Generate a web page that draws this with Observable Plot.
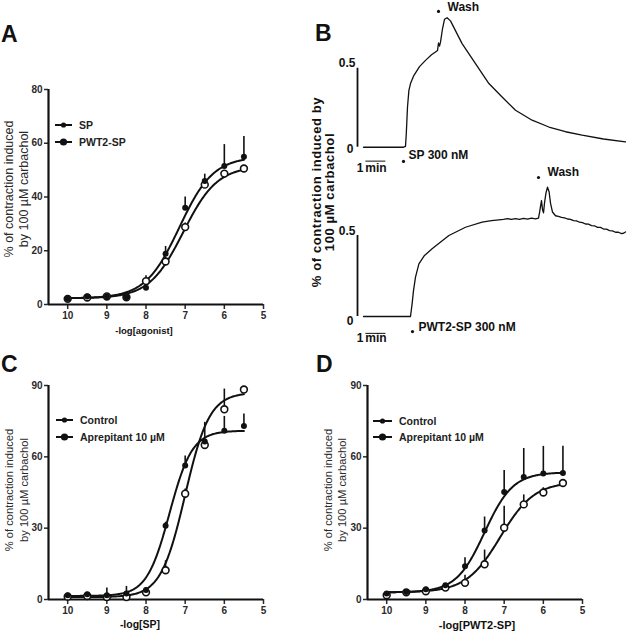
<!DOCTYPE html>
<html><head><meta charset="utf-8">
<script src="https://cdn.jsdelivr.net/npm/d3@7"></script>
<script src="https://cdn.jsdelivr.net/npm/@observablehq/plot@0.6"></script>
<style>
body{margin:0;background:#fff;}
#fig{position:relative;width:629px;height:634px;overflow:hidden;background:#fff;font-family:"Liberation Sans",Arial,sans-serif;color:#111}
#fig svg{position:absolute;overflow:visible}
.t{position:absolute;white-space:nowrap}
</style></head>
<body><div id="fig"></div>
<script>
// ---------- DATA ----------
const doses = [10, 9.5, 9, 8.5, 8, 7.5, 7, 6.5, 6, 5.5];
const xTicks = [10, 9, 8, 7, 6, 5];

// Panel A
const aSeriesNames = ["SP", "PWT2-SP"];
const aSP = [2.1, 3, 3, 2.7, 6.2, 18.9, 36, 46, 51.5, 55];
const aSPsem = [0.4, 0.5, 0.4, 0.4, 1, 2.7, 4, 2.5, 8, 7.5];
const aPWT = [2.1, 2.6, 3, 2.7, 8.7, 16, 28.8, 44.6, 48.7, 50.6];
const aPWTsem = [0.3, 0.4, 0.4, 0.4, 2, 1.5, 1.5, 1, 1, 1];
const aFitBottom = [2.3, 2.3];
const aFitTop = [55, 51.5];
const aFitP = [7.15, 7.05];
const aFitHill = [1, 1];
const aYTicks = [0, 20, 40, 60, 80];

// Panel C
const cSeriesNames = ["Control", "Aprepitant 10 µM"];
const cCtrl = [1.8, 2.2, 1.8, 2.5, 4, 31, 56.4, 66.5, 71, 73];
const cCtrlSem = [0.6, 0.5, 3, 3, 1, 1.5, 4, 8, 6, 5];
const cApr = [1.2, 1.5, 1, 1, 3, 12.3, 44.5, 65, 80, 88.3];
const cAprSem = [0.3, 0.3, 0.3, 0.3, 0.8, 4, 2, 2, 8.5, 1];
const cFitBottom = [1.5, 1];
const cFitTop = [71, 87];
const cFitP = [7.4, 7.0];
const cFitHill = [1.5, 1.4];

// Panel D
const dCtrl = [2.5, 3.2, 4.3, 6, 14, 29, 45.2, 51.5, 53, 53.2];
const dCtrlSem = [0.5, 0.5, 0.8, 0.8, 3.6, 5.7, 9, 12, 11.4, 11.2];
const dApr = [1.8, 3, 3.5, 5, 7, 14.8, 30.2, 40, 45, 49];
const dAprSem = [0.5, 0.5, 0.5, 0.5, 3.2, 6, 9, 4, 2, 1.5];
const dFitBottom = [3, 3];
const dFitTop = [53.5, 49.5];
const dFitP = [7.5, 7.1];
const dFitHill = [1.2, 1.0];
const cdYTicks = [0, 30, 60, 90];

// Panel B traces (time in min, response fraction)
const bTopT = [0, 1.0, 2.0, 2.1, 2.14, 2.2, 2.27, 2.35, 2.5, 2.8, 3.1, 3.4, 3.6, 3.7, 3.75, 3.8, 3.85, 3.95, 4.05, 4.18, 4.35, 4.93, 5.6, 6.27, 6.93, 7.6, 8.43, 9.27, 10.1, 10.93, 12.0, 13.1];
const bTopV = [0, 0, 0, 0.005, 0.087, 0.255, 0.36, 0.403, 0.45, 0.51, 0.55, 0.585, 0.603, 0.612, 0.66, 0.64, 0.665, 0.75, 0.81, 0.82, 0.80, 0.656, 0.53, 0.403, 0.318, 0.234, 0.171, 0.128, 0.098, 0.076, 0.052, 0.034];
const bBotT = [0, 1.0, 2.0, 2.35, 2.43, 2.5, 2.6, 2.77, 3.05, 3.43, 4.27, 5.1, 5.93, 6.4, 6.77, 7.0, 7.2, 7.4, 7.6, 7.8, 8.0, 8.2, 8.4, 8.6, 8.75, 8.8, 8.85, 8.9, 8.95, 9.0, 9.05, 9.12, 9.2, 9.28, 9.35, 9.45, 9.6, 9.75, 9.9, 10.05, 10.2, 10.35, 10.5, 10.65, 10.8, 10.95, 11.1, 11.25, 11.4, 11.55, 11.7, 11.85, 12.0, 12.15, 12.3, 12.45, 12.6, 12.75, 12.9, 13.0, 13.1];
const bBotV = [0, 0, 0, 0, 0.078, 0.16, 0.243, 0.325, 0.377, 0.418, 0.5, 0.551, 0.582, 0.592, 0.597, 0.6, 0.604, 0.599, 0.604, 0.6, 0.606, 0.601, 0.607, 0.603, 0.607, 0.64, 0.68, 0.716, 0.66, 0.64, 0.70, 0.76, 0.798, 0.77, 0.70, 0.645, 0.622, 0.618, 0.612, 0.609, 0.602, 0.6, 0.592, 0.59, 0.582, 0.58, 0.571, 0.57, 0.561, 0.56, 0.55, 0.55, 0.54, 0.539, 0.53, 0.529, 0.52, 0.52, 0.512, 0.514, 0.522];

// ---------- HELPERS ----------
const fig = document.getElementById("fig");
const FONT = '"Liberation Sans", Arial, sans-serif';
function put(el, left, top) { el.style.left = left + "px"; el.style.top = top + "px"; fig.appendChild(el); return el; }
function txt(text, left, top, css) {
  const d = document.createElement("div");
  d.className = "t"; d.textContent = text; d.style.cssText += css || "";
  return put(d, left, top);
}
function ylab(lines, cx, cy, css) {
  const d = document.createElement("div");
  d.className = "t";
  d.innerHTML = lines.map(l => `<div>${l}</div>`).join("");
  d.style.cssText += `text-align:center;transform:translate(-50%,-50%) rotate(-90deg);` + css;
  return put(d, cx, cy);
}

function fitCurve(b, t, p, h) {
  return d3.range(10, 5.49, -0.02).map(x => ({x, y: b + (t - b) / (1 + Math.pow(10, (x - p) * h))}));
}

function dosePanel({left, top, marginTop, yMax, yTicks, s1, s1sem, s2, s2sem, fb, ft, fp, fh}) {
  const x0 = 10.49;
  const p1 = doses.map((d, i) => ({x: d, y: s1[i], e: s1sem[i]}));
  const p2 = doses.map((d, i) => ({x: d, y: s2[i], e: s2sem[i]}));
  const c1 = fitCurve(fb[0], ft[0], fp[0], fh[0]);
  const c2 = fitCurve(fb[1], ft[1], fp[1], fh[1]);
  const svg = Plot.plot({
    width: 300, height: 224 - marginTop + marginTop + 36,
    marginLeft: 48, marginRight: 37, marginTop, marginBottom: 36,
    x: {domain: [x0, 5]},
    y: {domain: [0, yMax]},
    style: {fontFamily: FONT, fontSize: "10px", fontWeight: "bold", color: "#2a2a2a", background: "transparent"},
    marks: [
      Plot.axisX({ticks: xTicks, tickSize: 5, tickPadding: 2, strokeWidth: 1.5, label: null, tickFormat: d => String(d)}),
      Plot.axisY({ticks: yTicks, tickSize: 4, tickPadding: 2, strokeWidth: 1.5, label: null, tickFormat: d => String(d)}),
      Plot.ruleX([x0], {y1: 0, y2: yMax, strokeWidth: 2.2, stroke: "#111"}),
      Plot.ruleY([0], {x1: x0, x2: 5, strokeWidth: 2.2, stroke: "#111"}),
      Plot.line(c1, {x: "x", y: "y", strokeWidth: 2, stroke: "#111"}),
      Plot.line(c2, {x: "x", y: "y", strokeWidth: 2, stroke: "#111"}),
      Plot.ruleX(p1, {x: "x", y1: "y", y2: d => d.y + d.e, strokeWidth: 1.6, stroke: "#111"}),
      Plot.ruleX(p2, {x: "x", y1: "y", y2: d => d.y + d.e, strokeWidth: 1.6, stroke: "#111"}),
      Plot.dot(p2, {x: "x", y: "y", r: 3.4, fill: "white", stroke: "#111", strokeWidth: 1.6}),
      Plot.dot(p1, {x: "x", y: "y", r: 3, fill: "#111"})
    ]
  });
  svg.style.left = left + "px"; svg.style.top = (top) + "px";
  fig.appendChild(svg);
}

// ---------- PANEL A ----------
dosePanel({left: 0, top: 80, marginTop: 9, yMax: 80, yTicks: aYTicks,
  s1: aSP, s1sem: aSPsem, s2: aPWT, s2sem: aPWTsem, fb: aFitBottom, ft: aFitTop, fp: aFitP, fh: aFitHill});
// ---------- PANEL C ----------
dosePanel({left: 0, top: 375, marginTop: 10, yMax: 90, yTicks: cdYTicks,
  s1: cCtrl, s1sem: cCtrlSem, s2: cApr, s2sem: cAprSem, fb: cFitBottom, ft: cFitTop, fp: cFitP, fh: cFitHill});
// ---------- PANEL D ----------
dosePanel({left: 319, top: 375, marginTop: 10, yMax: 90, yTicks: cdYTicks,
  s1: dCtrl, s1sem: dCtrlSem, s2: dApr, s2sem: dAprSem, fb: dFitBottom, ft: dFitTop, fp: dFitP, fh: dFitHill});

// ---------- PANEL B ----------
function tracePanel({top, height, yDom, T, V, yBar, minY, overY, drugDot, drugTxt, drugLabel, washDot, washTxt}) {
  const pts = T.map((t, i) => ({t, v: V[i]}));
  const bold = {fontWeight: "bold", fontSize: 12, fontFamily: FONT, fill: "#111"};
  const svg = Plot.plot({
    width: 314, height, margin: 0,
    x: {domain: [-2.4, 13.3], range: [0, 314], axis: null},
    y: {domain: yDom, range: [height, 0], axis: null},
    style: {fontFamily: FONT, background: "transparent"},
    marks: [
      Plot.ruleX([-0.3], {y1: 0, y2: 0.5, strokeWidth: 1.8, stroke: "#111"}),
      Plot.text(["0.5"], {x: -0.3, y: 0.5, dx: -2, dy: yBar[0], textAnchor: "end", ...bold}),
      Plot.text(["0"], {x: -0.3, y: 0, dx: -4, dy: yBar[1], textAnchor: "end", ...bold}),
      Plot.line(pts, {x: "t", y: "v", stroke: "#111", strokeWidth: 1.3}),
      Plot.text(["1"], {x: -0.17, y: minY, ...bold}),
      Plot.text(["min"], {x: 0.62, y: minY, ...bold}),
      Plot.ruleY([overY], {x1: 0.12, x2: 1.12, stroke: "#111", strokeWidth: 1}),
      Plot.dot([drugDot], {x: d => d[0], y: d => d[1], r: 1.6, fill: "#111"}),
      Plot.text([drugLabel], {x: drugTxt[0], y: drugTxt[1], textAnchor: "start", ...bold}),
      Plot.dot([washDot], {x: d => d[0], y: d => d[1], r: 1.6, fill: "#111"}),
      Plot.text(["Wash"], {x: washTxt[0], y: washTxt[1], textAnchor: "start", ...bold})
    ]
  });
  svg.style.left = "315px"; svg.style.top = top + "px";
  fig.appendChild(svg);
}
tracePanel({top: 0, height: 178, yDom: [-0.198, 0.929], T: bTopT, V: bTopV, yBar: [-5, 2],
  minY: -0.135, overY: -0.088, drugDot: [2.0, -0.09], drugTxt: [2.25, -0.05], drugLabel: "SP 300 nM",
  washDot: [3.75, 0.86], washTxt: [4.2, 0.885]});
tracePanel({top: 160, height: 180, yDom: [-0.148, 0.963], T: bBotT, V: bBotV, yBar: [-4, 5],
  minY: -0.136, overY: -0.104, drugDot: [2.45, -0.093], drugTxt: [2.75, -0.068], drugLabel: "PWT2-SP 300 nM",
  washDot: [8.75, 0.858], washTxt: [9.2, 0.889]});

// ---------- TEXT: panel letters, axis titles ----------
const letterCss = "font-weight:bold;font-size:23px;line-height:23px;";
txt("A", 1, 23, letterCss);
txt("B", 315, 22, letterCss);
txt("C", 1, 353, letterCss);
txt("D", 316, 353, letterCss);

const xt = "font-weight:bold;transform:translate(-50%,-50%);";
txt("-log[agonist]", 144, 330, xt + "font-size:9.5px;");
txt("-log[SP]", 140, 624, xt + "font-size:10.5px;");
txt("-log[PWT2-SP]", 477, 625, xt + "font-size:11px;");

ylab(["% of contraction induced", "by 100 µM carbachol"], 16, 189, "font-size:12.5px;line-height:14.5px;color:#2a2a2a;");
ylab(["% of contraction induced", "by 100 µM carbachol"], 16, 490, "font-size:11.2px;line-height:14.5px;color:#2a2a2a;");
ylab(["% of contraction induced", "by 100 µM carbachol"], 335, 490, "font-size:11.2px;line-height:14px;color:#2a2a2a;");
ylab(["% of contraction induced by", "100 µM carbachol"], 323, 192, "font-size:13px;letter-spacing:0.6px;font-weight:bold;line-height:12.5px;");

// ---------- LEGENDS ----------
const ov = d3.create("svg").attr("width", 629).attr("height", 634).style("left", "0px").style("top", "0px");
function legend(x1, x2, ys, names) {
  const cx = (x1 + x2) / 2;
  ys.forEach((y, i) => {
    ov.append("line").attr("x1", x1).attr("x2", x2).attr("y1", y).attr("y2", y).attr("stroke", "#111").attr("stroke-width", 2);
    ov.append("circle").attr("cx", cx).attr("cy", y).attr("r", i === 0 ? 2.6 : 3.6).attr("fill", "#111");
    ov.append("text").attr("x", x2 + 7).attr("y", y).attr("dy", "0.35em").attr("font-family", FONT)
      .attr("font-size", 10.5).attr("font-weight", "bold").attr("fill", "#222").text(names[i]);
  });
}
legend(55, 72, [125, 142], aSeriesNames);
legend(56, 73, [420, 437], cSeriesNames);
legend(373, 392, [421, 437], cSeriesNames);
fig.appendChild(ov.node());
</script>
</body></html>
